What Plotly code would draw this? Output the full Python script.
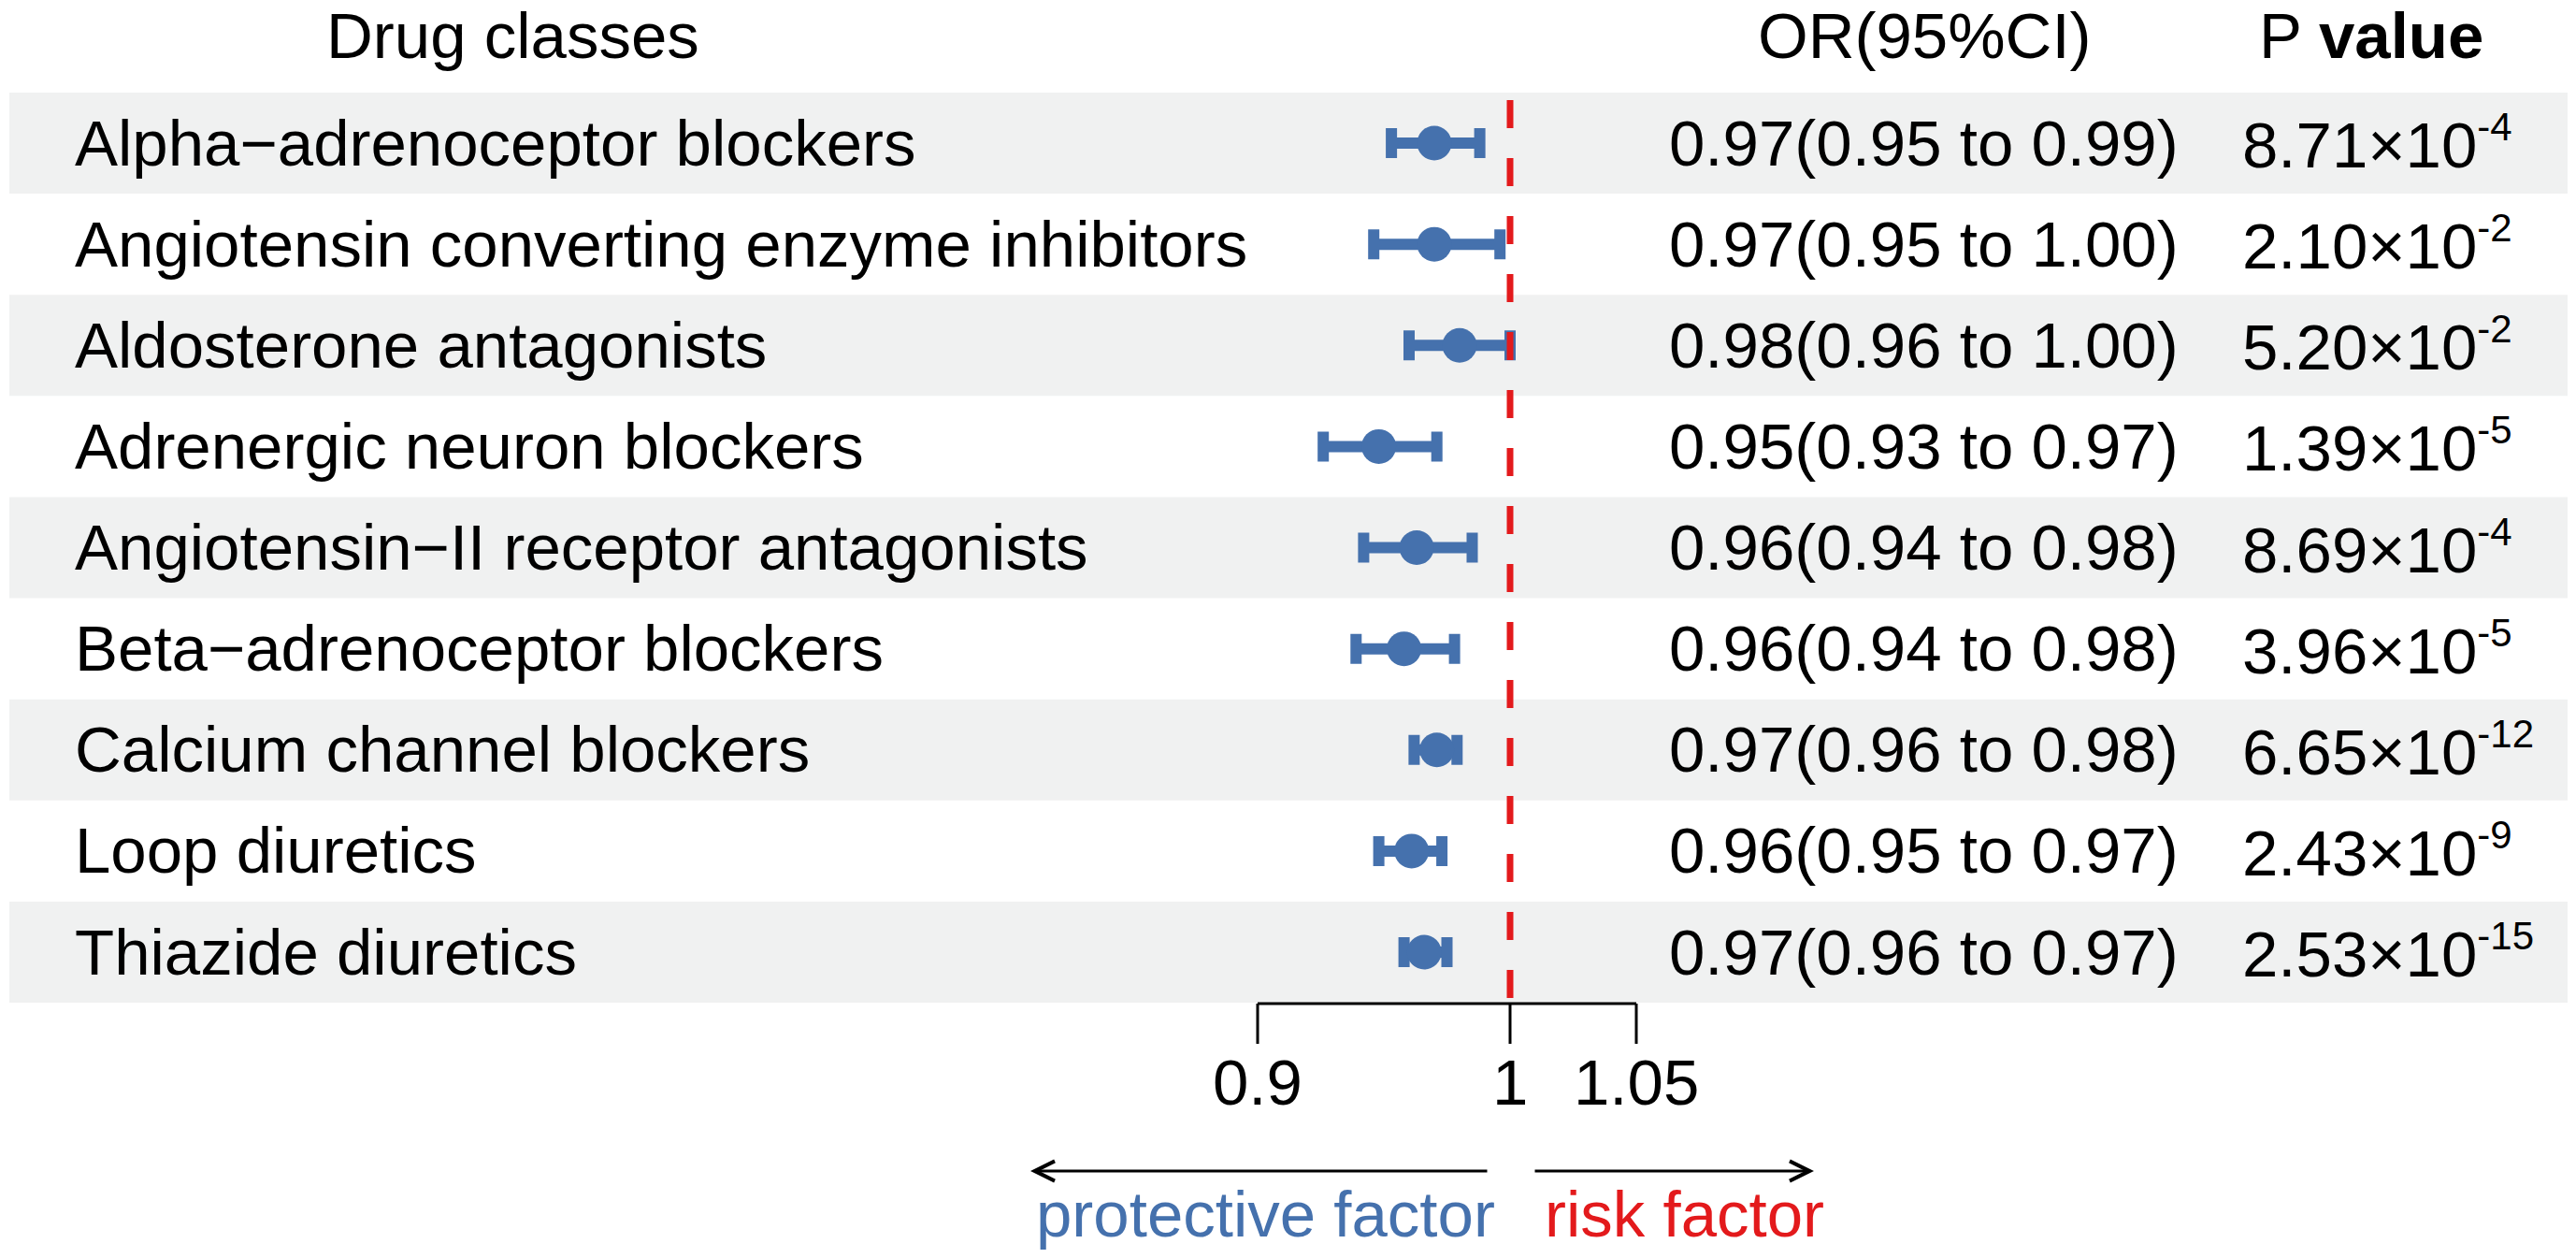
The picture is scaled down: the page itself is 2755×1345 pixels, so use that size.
import plotly.graph_objects as go

# ---------------- data ----------------
drug_classes = [
    "Alpha\u2212adrenoceptor blockers",
    "Angiotensin converting enzyme inhibitors",
    "Aldosterone antagonists",
    "Adrenergic neuron blockers",
    "Angiotensin\u2212II receptor antagonists",
    "Beta\u2212adrenoceptor blockers",
    "Calcium channel blockers",
    "Loop diuretics",
    "Thiazide diuretics",
]
or_est = [0.970, 0.970, 0.980, 0.948, 0.963, 0.958, 0.971, 0.961, 0.966]
ci_low = [0.953, 0.946, 0.960, 0.926, 0.942, 0.939, 0.962, 0.948, 0.958]
ci_high = [0.988, 0.996, 1.000, 0.971, 0.985, 0.978, 0.979, 0.973, 0.975]
or_text = [
    "0.97(0.95 to 0.99)",
    "0.97(0.95 to 1.00)",
    "0.98(0.96 to 1.00)",
    "0.95(0.93 to 0.97)",
    "0.96(0.94 to 0.98)",
    "0.96(0.94 to 0.98)",
    "0.97(0.96 to 0.98)",
    "0.96(0.95 to 0.97)",
    "0.97(0.96 to 0.97)",
]
p_mantissa = ["8.71", "2.10", "5.20", "1.39", "8.69", "3.96", "6.65", "2.43", "2.53"]
p_exponent = [-4, -2, -2, -5, -4, -5, -12, -9, -15]
x_ticks = [0.9, 1, 1.05]
x_tick_labels = ["0.9", "1", "1.05"]
null_value = 1
headers = ["Drug classes", "OR(95%CI)", "P <b>value</b>"]
direction_labels = ["protective factor", "risk factor"]

# ---------------- layout constants (pixels) ----------------
W, H = 2755, 1345
PX_PER_UNIT = 2700.0
X_NULL_PX = 1615.0
ROW1_PX = 153.0
ROW_STEP = 108.125

FONT = "Liberation Sans, Arial, Helvetica, sans-serif"
FS = 69
SUP_FS = 42
BLUE = "#4571AD"
RED = "#E31A1C"
BAND = "#F0F1F1"


def xd(px):
    return null_value + (px - X_NULL_PX) / PX_PER_UNIT


def yd(px):
    return 1 + (px - ROW1_PX) / ROW_STEP


def xp(px):
    return px / W


def yp(px):
    return 1 - px / H


def f(color="black", size=FS):
    return dict(family=FONT, size=size, color=color)


rows = list(range(1, len(drug_classes) + 1))

fig = go.Figure()

fig.add_trace(go.Scatter(
    x=or_est, y=rows, mode="markers",
    marker=dict(size=37, color=BLUE, line=dict(width=0)),
    error_x=dict(type="data", symmetric=False,
                 array=[h - e for h, e in zip(ci_high, or_est)],
                 arrayminus=[e - l for e, l in zip(or_est, ci_low)],
                 thickness=12, width=16, color=BLUE),
    hoverinfo="skip", showlegend=False,
))

shapes = []
# alternating row bands
for r in rows:
    if r % 2 == 1:
        shapes.append(dict(type="rect", xref="paper", yref="y",
                           x0=xp(10), x1=xp(2746), y0=r - 0.5, y1=r + 0.5,
                           fillcolor=BAND, line=dict(width=0), layer="below"))
# null line
shapes.append(dict(type="line", xref="x", yref="y",
                   x0=null_value, x1=null_value, y0=yd(107), y1=yd(1067),
                   line=dict(color=RED, width=7, dash="30px,32px"), layer="above"))
# axis bracket
shapes.append(dict(type="line", xref="x", yref="y",
                   x0=min(x_ticks), x1=max(x_ticks), y0=yd(1073), y1=yd(1073),
                   line=dict(color="black", width=3)))
for t in x_ticks:
    shapes.append(dict(type="line", xref="x", yref="y",
                       x0=t, x1=t, y0=yd(1073), y1=yd(1116),
                       line=dict(color="black", width=3)))

ann = []
# headers
ann.append(dict(text=headers[0], x=xp(548), y=yp(38), xref="paper", yref="paper",
                xanchor="center", yanchor="middle", showarrow=False, font=f()))
ann.append(dict(text=headers[1], x=xp(2058), y=yp(38), xref="paper", yref="paper",
                xanchor="center", yanchor="middle", showarrow=False, font=f()))
ann.append(dict(text=headers[2], x=xp(2536), y=yp(38), xref="paper", yref="paper",
                xanchor="center", yanchor="middle", showarrow=False, font=f()))
# rows
for r, name, ot, m, e in zip(rows, drug_classes, or_text, p_mantissa, p_exponent):
    ann.append(dict(text=name, x=xp(78), y=r, xref="paper", yref="y",
                    xanchor="left", yanchor="middle", showarrow=False, font=f()))
    ann.append(dict(text=ot, x=xp(1783), y=r, xref="paper", yref="y",
                    xanchor="left", yanchor="middle", showarrow=False, font=f()))
    ann.append(dict(text=f"{m}\u00d710<sup><span style=\"font-size:{SUP_FS}px\">{e}</span></sup>",
                    x=xp(2396), y=r, xref="paper", yref="y",
                    xanchor="left", yanchor="middle", showarrow=False, font=f()))
# tick labels
for t, lab in zip(x_ticks, x_tick_labels):
    ann.append(dict(text=lab, x=t, y=yd(1157), xref="x", yref="y",
                    xanchor="center", yanchor="middle", showarrow=False, font=f()))
# direction arrows
ann.append(dict(text="", x=xd(1102), y=yd(1252), ax=xd(1592), ay=yd(1252),
                xref="x", yref="y", axref="x", ayref="y",
                showarrow=True, arrowhead=5, arrowsize=1.4, arrowwidth=3,
                arrowcolor="black", font=f()))
ann.append(dict(text="", x=xd(1940), y=yd(1252), ax=xd(1640), ay=yd(1252),
                xref="x", yref="y", axref="x", ayref="y",
                showarrow=True, arrowhead=5, arrowsize=1.4, arrowwidth=3,
                arrowcolor="black", font=f()))
ann.append(dict(text=direction_labels[0], x=xd(1601), y=yd(1298), xref="x", yref="y",
                xanchor="right", yanchor="middle", showarrow=False, font=f(BLUE)))
ann.append(dict(text=direction_labels[1], x=xd(1650), y=yd(1298), xref="x", yref="y",
                xanchor="left", yanchor="middle", showarrow=False, font=f(RED)))

fig.update_layout(
    width=W, height=H,
    margin=dict(l=0, r=0, t=0, b=0, pad=0),
    paper_bgcolor="white", plot_bgcolor="white",
    font=dict(family=FONT, size=FS, color="black"),
    xaxis=dict(visible=False, range=[xd(0), xd(W)], fixedrange=True),
    yaxis=dict(visible=False, range=[yd(H), yd(0)], fixedrange=True),
    shapes=shapes, annotations=ann, showlegend=False,
)

fig.write_html("out.html", config={"displayModeBar": False},
               post_script="document.body.style.margin='0';")
